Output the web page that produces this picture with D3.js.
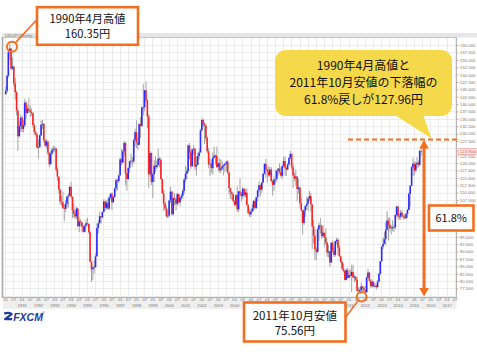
<!DOCTYPE html>
<html><head><meta charset="utf-8">
<script src="https://cdn.jsdelivr.net/npm/d3@7"></script>
<style>html,body{margin:0;padding:0;background:#fff;overflow:hidden}</style>
</head><body>
<svg id="c" width="477" height="352"></svg>
<script>
// Monthly USD/JPY candles, Jan 1990 – Jun 2015
const startYear = 1990;
const open = [
143.4,144.5,149.6,157.6,158.8,152.0,152.7,147.0,144.0,137.8,129.1,132.5,
135.4,131.6,132.8,140.5,137.0,138.4,137.9,137.3,136.9,132.9,130.5,129.7,
125.2,125.4,129.4,133.0,133.3,127.7,125.9,127.3,123.5,119.6,123.2,124.5,
124.8,124.9,117.8,115.4,111.1,107.0,106.7,104.8,104.5,106.2,108.6,109.0,
111.9,108.6,104.0,102.8,101.9,104.6,98.6,100.2,99.8,98.5,96.7,98.8,
99.6,99.4,96.6,86.6,84.0,84.5,84.7,88.4,98.0,99.6,102.0,101.6,
103.4,107.0,104.8,106.5,104.6,108.3,109.6,106.7,108.5,111.4,114.2,113.9,
115.8,121.3,120.2,124.0,126.8,116.5,114.6,118.4,120.6,120.8,120.6,127.8,
130.5,127.0,126.2,133.2,132.6,138.8,138.9,144.7,141.4,135.8,116.2,123.4,
113.6,116.2,119.1,118.6,119.3,121.5,121.0,114.6,109.8,106.3,104.6,102.0,
102.2,107.3,110.3,102.7,108.1,107.7,106.2,109.5,106.7,108.2,109.0,110.6,
114.4,116.4,117.3,126.0,123.6,118.9,124.6,124.9,118.8,119.4,122.4,123.6,
131.1,134.6,133.4,132.7,128.5,124.0,119.6,119.8,118.3,121.8,122.5,122.5,
118.7,119.9,117.6,118.1,118.9,119.3,119.8,120.4,116.8,111.5,110.1,109.5,
107.2,105.9,109.1,104.3,110.4,109.5,108.8,111.3,109.2,110.0,105.8,103.1,
102.6,103.6,104.6,107.1,104.8,108.4,110.8,112.5,111.0,113.4,116.4,119.7,
117.9,117.2,115.9,117.8,113.9,112.6,114.4,114.6,117.4,118.1,116.9,115.7,
119.0,120.7,118.5,117.8,119.5,121.7,123.1,118.6,115.8,114.8,115.4,111.2,
111.7,106.4,103.9,99.7,104.0,105.5,106.2,107.9,108.8,106.0,98.5,95.4,
90.7,89.9,97.6,98.9,98.6,95.3,96.4,94.7,93.0,89.7,90.1,86.3,
93.0,90.3,88.9,93.5,94.0,91.3,88.4,86.5,84.2,83.5,80.4,83.7,
81.1,82.1,81.8,83.1,81.2,81.5,80.5,76.7,76.6,77.0,78.2,77.6,
76.9,76.2,81.2,82.9,80.1,78.3,79.8,78.1,78.4,77.9,79.8,82.5,
86.7,91.7,92.6,94.2,97.4,100.5,99.1,97.9,98.2,98.2,98.3,102.4,
105.3,102.0,101.8,103.2,102.2,101.8,101.3,102.8,104.1,109.6,112.3,118.6,
119.8,117.5,119.6,120.1,119.4,124.1];
const high = [
145.8,150.0,158.0,160.35,159.0,155.8,153.0,149.0,144.5,138.2,134.0,136.4,
136.0,134.5,141.8,141.0,139.6,142.0,139.5,138.6,137.2,133.5,131.0,130.2,
128.0,129.8,134.5,134.6,133.5,128.0,128.2,127.6,123.8,124.0,125.4,125.9,
125.7,125.0,118.6,115.4,111.4,108.8,110.2,106.0,107.5,108.9,109.8,112.4,
113.6,108.7,106.2,104.2,105.3,104.8,101.2,101.1,100.2,98.8,99.0,100.9,
101.5,99.5,97.0,86.8,85.5,87.1,89.4,99.5,100.6,103.6,102.0,103.6,
107.8,107.2,107.5,108.1,108.9,109.9,110.1,108.8,111.8,114.8,114.6,116.1,
121.9,124.8,124.5,127.5,127.2,116.8,118.5,120.8,123.3,122.0,128.2,131.7,
134.5,128.6,133.6,135.6,139.2,146.8,144.8,147.66,141.6,136.6,124.1,123.6,
116.8,121.0,122.3,120.8,124.8,122.0,121.7,114.8,111.0,106.9,105.5,104.4,
107.6,112.0,110.6,108.4,109.8,108.3,110.0,109.6,108.7,109.6,111.4,114.9,
119.0,118.4,126.2,126.8,124.6,124.9,126.0,125.0,122.2,123.6,124.6,131.6,
135.2,135.0,133.8,133.3,128.9,125.2,121.5,121.2,123.6,125.5,122.9,125.6,
120.3,121.6,121.2,120.6,119.6,120.0,120.8,121.0,117.0,111.7,110.4,109.6,
107.3,109.5,112.1,110.6,114.9,110.2,112.0,111.5,111.1,111.5,106.1,104.3,
104.3,106.0,107.5,107.7,108.5,111.0,113.7,112.8,113.6,116.5,120.0,121.4,
117.9,118.9,118.7,118.6,114.3,115.5,117.8,117.5,118.3,119.9,118.6,119.1,
122.2,122.2,118.5,120.0,122.0,124.1,123.2,119.8,116.8,117.9,115.6,114.7,
112.0,108.5,104.1,104.6,105.6,108.6,108.5,110.6,109.8,106.0,100.7,97.5,
91.4,98.1,99.7,101.4,99.1,98.9,96.4,97.8,93.3,92.3,90.2,93.1,
93.8,91.3,93.7,94.7,94.5,92.2,88.6,86.8,85.9,83.8,84.3,84.5,
83.6,84.0,85.5,85.5,82.2,81.5,81.3,77.9,77.8,79.5,78.3,78.3,
78.3,81.7,84.2,83.0,80.6,80.6,79.9,79.3,78.9,80.4,82.8,86.8,
91.8,94.8,96.7,99.9,103.7,101.5,101.5,99.0,100.6,99.0,102.6,105.4,
105.4,102.8,104.1,104.1,102.4,102.8,103.1,104.5,110.1,112.5,119.0,121.8,
120.6,120.5,122.0,120.8,124.5,125.86];
const low = [
143.0,143.8,149.0,155.0,151.5,151.6,146.0,141.5,136.2,124.1,128.8,130.6,
130.5,130.4,132.2,135.0,136.6,137.0,135.5,136.0,132.0,129.5,129.0,125.0,
121.6,125.3,129.2,131.6,126.8,125.5,124.8,122.6,118.6,119.4,122.8,123.6,
123.8,117.1,114.0,109.8,105.8,105.5,104.5,100.4,103.4,104.8,105.0,108.8,
108.0,101.3,101.6,101.0,101.1,98.4,96.6,98.5,96.6,96.4,96.5,98.3,
98.8,96.0,86.4,79.75,80.3,82.5,84.5,88.2,96.1,99.5,99.6,101.3,
103.3,103.9,104.3,104.1,104.1,107.7,104.1,106.6,108.2,110.4,110.7,113.2,
115.8,119.3,120.0,122.5,112.5,110.6,114.3,116.8,119.6,118.8,119.8,125.6,
125.1,124.5,126.0,128.4,132.2,136.2,137.6,140.5,131.8,111.6,115.4,112.6,
108.2,113.6,117.0,118.0,119.2,118.5,114.3,109.5,103.7,103.9,101.5,101.3,
101.8,106.5,102.2,102.2,105.6,104.0,105.5,106.2,105.3,107.4,107.9,109.6,
113.5,114.6,116.6,121.3,118.1,118.8,123.0,117.6,115.8,119.3,121.3,123.6,
130.7,132.3,126.5,127.3,123.3,118.4,115.6,116.7,116.0,121.4,119.5,118.3,
117.2,116.8,116.6,117.7,115.8,116.9,117.3,116.3,109.2,107.8,107.6,106.7,
105.3,105.4,103.4,103.4,108.7,106.9,107.7,108.3,108.4,105.6,102.7,101.8,
101.7,103.5,103.6,104.2,104.4,106.9,110.0,108.7,109.9,113.3,116.0,115.0,
113.4,115.4,115.4,113.6,108.9,110.5,113.1,113.5,115.5,116.3,115.1,114.5,
118.4,115.7,115.6,117.6,119.2,121.3,117.8,111.6,113.9,112.3,107.2,109.6,
104.9,103.8,95.8,99.0,101.8,104.1,103.8,107.1,103.5,90.9,92.8,87.1,
87.1,89.3,93.5,96.1,94.3,94.6,91.7,92.3,88.2,88.0,84.8,86.3,
89.4,88.2,88.3,92.5,88.8,88.2,86.1,83.6,82.9,80.2,80.2,80.9,
81.1,81.5,76.3,81.0,79.6,80.0,76.5,75.95,75.9,75.56,76.6,76.6,
76.0,76.1,80.9,79.7,77.7,77.7,77.9,77.9,77.1,77.9,79.6,82.0,
86.6,90.9,92.6,92.0,97.4,93.8,96.9,95.8,96.9,96.6,97.6,101.6,
100.8,100.8,100.8,101.4,100.8,101.1,101.1,101.5,104.1,105.2,112.2,115.6,
115.9,116.9,118.3,118.5,118.9,122.5];
const close = [
144.5,149.6,157.6,158.8,152.0,152.7,147.0,144.0,137.8,129.1,132.5,135.4,
131.6,132.8,140.5,137.0,138.4,137.9,137.3,136.9,132.9,130.5,129.7,125.2,
125.4,129.4,133.0,133.3,127.7,125.9,127.3,123.5,119.6,123.2,124.5,124.8,
124.9,117.8,115.4,111.1,107.0,106.7,104.8,104.5,106.2,108.6,109.0,111.9,
108.6,104.0,102.8,101.9,104.6,98.6,100.2,99.8,98.5,96.7,98.8,99.6,
99.4,96.6,86.6,84.0,84.5,84.7,88.4,98.0,99.6,102.0,101.6,103.4,
107.0,104.8,106.5,104.6,108.3,109.6,106.7,108.5,111.4,114.2,113.9,115.8,
121.3,120.2,124.0,126.8,116.5,114.6,118.4,120.6,120.8,120.6,127.8,130.5,
127.0,126.2,133.2,132.6,138.8,138.9,144.7,141.4,135.8,116.2,123.4,113.6,
116.2,119.1,118.6,119.3,121.5,121.0,114.6,109.8,106.3,104.6,102.0,102.2,
107.3,110.3,102.7,108.1,107.7,106.2,109.5,106.7,108.2,109.0,110.6,114.4,
116.4,117.3,126.0,123.6,118.9,124.6,124.9,118.8,119.4,122.4,123.6,131.1,
134.6,133.4,132.7,128.5,124.0,119.6,119.8,118.3,121.8,122.5,122.5,118.7,
119.9,117.6,118.1,118.9,119.3,119.8,120.4,116.8,111.5,110.1,109.5,107.2,
105.9,109.1,104.3,110.4,109.5,108.8,111.3,109.2,110.0,105.8,103.1,102.6,
103.6,104.6,107.1,104.8,108.4,110.8,112.5,111.0,113.4,116.4,119.7,117.9,
117.2,115.9,117.8,113.9,112.6,114.4,114.6,117.4,118.1,116.9,115.7,119.0,
120.7,118.5,117.8,119.5,121.7,123.1,118.6,115.8,114.8,115.4,111.2,111.7,
106.4,103.9,99.7,104.0,105.5,106.2,107.9,108.8,106.0,98.5,95.4,90.7,
89.9,97.6,98.9,98.6,95.3,96.4,94.7,93.0,89.7,90.1,86.3,93.0,
90.3,88.9,93.5,94.0,91.3,88.4,86.5,84.2,83.5,80.4,83.7,81.1,
82.1,81.8,83.1,81.2,81.5,80.5,76.7,76.6,77.0,78.2,77.6,76.9,
76.2,81.2,82.9,80.1,78.3,79.8,78.1,78.4,77.9,79.8,82.5,86.7,
91.7,92.6,94.2,97.4,100.5,99.1,97.9,98.2,98.2,98.3,102.4,105.3,
102.0,101.8,103.2,102.2,101.8,101.3,102.8,104.1,109.6,112.3,118.6,119.8,
117.5,119.6,120.1,119.4,124.1,123.9];

const priceTicks = [77.5,80,82.5,85,87.5,90,92.5,95,97.5,100,102.5,105,107.5,110,112.5,115,117.5,120,
  122.5,125,127.5,130,132.5,135,137.5,140,142.5,145,147.5,150,152.5,155,157.5,160];
const gridPrices = [75].concat(priceTicks);
const axisYears = [1990,1991,1992,1993,1994,1995,1996,1997,1998,1999,2000,2001,2002,2003,2004,2005,
  2006,2007,2008,2009,2010,2011,2012,2013,2014,2015,2016,2017];
const tickMonths = [0, 6]; // "01", "07"

// annotation values
const highValue = 160.35, highMonth = [1990, 3];
const lowValue = 75.56, lowMonth = [2011, 9];
const retraceValue = 127.96;
const retracePct = "61.8%";
const arrowMonth = [2015, 7];

const ORANGE = "#f26f21", UP = "#2a2aff", DOWN = "#ff2424", WICK = "#a3a3a3";
const JP = "'Noto Sans CJK JP','Noto Sans',sans-serif";
const SMALL = "'Liberation Sans',Arial,sans-serif";

const svg = d3.select('#c');
const X0 = 3, X1 = 456.5, Y0 = 38, Y1 = 297;
const x = d3.scaleTime().domain([new Date(1990,0,1), new Date(2017,0,1)]).range([5.35, 446.7]);
const y = d3.scaleLinear().domain([74.6, 162.4]).range([297, 38]);

// boxes that cover parts of the right axis (as in the reference)
const pctBox = {x:429, y:205.5, w:44.5, h:25};
const data = close.map((c,i)=>({date:new Date(startYear,i,1), o:open[i], h:high[i], l:low[i], c}));
const last = data[data.length-1];
const tagY = y(last.c);

// frame
svg.append('rect').attr('x',2).attr('y',33).attr('width',475).attr('height',4.5).attr('fill','#e6e6e6');
svg.append('text').attr('x',5).attr('y',36.6).attr('font-size',3.6).attr('fill','#777')
  .attr('font-family',SMALL).text('USDJPY,Monthly');
svg.append('rect').attr('x',X0).attr('y',Y0).attr('width',X1-X0).attr('height',Y1-Y0).attr('fill','#fff');
svg.append('rect').attr('x',X0).attr('y',Y1).attr('width',X1-X0).attr('height',12).attr('fill','#efefef');

// grid
const gridDates = [];
axisYears.forEach(yr => tickMonths.forEach(m => { const d = new Date(yr,m,1); if (x(d) < X1) gridDates.push(d); }));
const grid = svg.append('g');
grid.selectAll('line.v').data(gridDates).join('line').attr('class','v')
  .attr('x1',d=>Math.round(x(d))+0.5).attr('x2',d=>Math.round(x(d))+0.5).attr('y1',Y0).attr('y2',Y1)
  .attr('stroke','#ececec').attr('stroke-width',1);
grid.selectAll('line.h').data(gridPrices).join('line').attr('class','h')
  .attr('x1',X0).attr('x2',X1).attr('y1',d=>Math.round(y(d))+0.5).attr('y2',d=>Math.round(y(d))+0.5)
  .attr('stroke','#ececec').attr('stroke-width',1);

// borders
svg.append('line').attr('x1',X0-0.5).attr('x2',X0-0.5).attr('y1',37).attr('y2',Y1+0.5).attr('stroke','#a8a8a8').attr('stroke-width',1.6);
svg.append('line').attr('x1',X1).attr('x2',X1).attr('y1',37).attr('y2',Y1+0.5).attr('stroke','#b5b5b5').attr('stroke-width',1);
svg.append('line').attr('x1',X0).attr('x2',X1).attr('y1',37.6).attr('y2',37.6).attr('stroke','#c4c4c4').attr('stroke-width',1);
svg.append('line').attr('x1',X0-1).attr('x2',X1).attr('y1',Y1+0.5).attr('y2',Y1+0.5).attr('stroke','#b0b0b0').attr('stroke-width',1);

// candles
const cg = svg.append('g');
cg.selectAll('line.w').data(data).join('line').attr('class','w')
  .attr('x1',d=>x(d.date)+0.4).attr('x2',d=>x(d.date)+0.4)
  .attr('y1',d=>y(d.h)).attr('y2',d=>y(d.l)).attr('stroke',WICK).attr('stroke-width',1);
cg.selectAll('rect.b').data(data).join('rect').attr('class','b')
  .attr('x',d=>x(d.date)-0.45).attr('width',1.6)
  .attr('y',d=>y(Math.max(d.o,d.c))).attr('height',d=>Math.max(0.8, Math.abs(y(d.o)-y(d.c))))
  .attr('fill',d=>d.c>=d.o?UP:DOWN);

// right axis (labels hidden where the reference covers them with the 61.8% box / price tag)
const visibleTicks = priceTicks.filter(p => {
  const py = y(p);
  if (py > pctBox.y - 2.5 && py < pctBox.y + pctBox.h + 2.5) return false;
  if (Math.abs(py - tagY) < 4) return false;
  return true;
});
const ra = svg.append('g').attr('transform',`translate(${X1},0)`)
  .call(d3.axisRight(y).tickValues(visibleTicks).tickSize(2).tickPadding(1.2).tickFormat(d3.format('.3f')));
ra.select('.domain').remove();
ra.selectAll('line').attr('stroke','#e39a9a');
ra.selectAll('text').attr('font-size',4.4).attr('fill','#777').attr('font-family',SMALL);
svg.append('rect').attr('x',X1+1.5).attr('y',tagY-2.8).attr('width',18).attr('height',5.6)
  .attr('fill','#fff2f2').attr('stroke','#e57a7a').attr('stroke-width',0.6);
svg.append('text').attr('x',X1+3.3).attr('y',tagY+1.5).attr('font-size',4.4).attr('fill','#d44')
  .attr('font-family',SMALL).text(d3.format('.3f')(last.c));

// bottom axis: months and years
const ba = svg.append('g').attr('transform',`translate(0,${Y1})`)
  .call(d3.axisBottom(x).tickValues(gridDates).tickSize(0).tickPadding(1.5).tickFormat(d3.timeFormat('%m')));
ba.select('.domain').remove();
ba.selectAll('text').attr('font-size',4.2).attr('fill','#777').attr('font-family',SMALL);
const yearDates = axisYears.filter(yr=>yr>1990).map(yr=>new Date(yr,0,1));
const ya = svg.append('g').attr('transform',`translate(0,${Y1+5.5})`)
  .call(d3.axisBottom(x).tickValues(yearDates).tickSize(0).tickPadding(1.5).tickFormat(d3.timeFormat('%Y')));
ya.select('.domain').remove();
ya.selectAll('text').attr('font-size',4.2).attr('fill','#777').attr('font-family',SMALL);

// ---------- annotations ----------
const ann = svg.append('g');
// high marker
const hx = x(new Date(highMonth[0],highMonth[1],1))+2.6, hy = y(highValue)+2.6;
ann.append('circle').attr('cx',hx).attr('cy',hy).attr('r',5).attr('fill','none').attr('stroke',ORANGE).attr('stroke-width',2);
ann.append('line').attr('x1',37).attr('y1',19.5).attr('x2',hx+3.3).attr('y2',hy-3.8).attr('stroke',ORANGE).attr('stroke-width',1.6);
ann.append('rect').attr('x',37).attr('y',7.2).attr('width',101).attr('height',37.6).attr('fill','#fff')
  .attr('stroke',ORANGE).attr('stroke-width',2.6);
ann.append('text').attr('x',87.5).attr('y',23.3).attr('text-anchor','middle').attr('font-family',JP).attr('font-size',11.2)
  .attr('fill','#111').text('1990年4月高値');
ann.append('text').attr('x',87.5).attr('y',38.2).attr('text-anchor','middle').attr('font-family',JP).attr('font-size',11.2)
  .attr('fill','#111').text(`${highValue}円`);

// low marker
const lx = x(new Date(lowMonth[0],lowMonth[1],1))+0.8, ly = y(lowValue)+2.6;
ann.append('line').attr('x1',345).attr('y1',318).attr('x2',lx-3.2).attr('y2',ly+3.6).attr('stroke',ORANGE).attr('stroke-width',1.6);
ann.append('circle').attr('cx',lx).attr('cy',ly).attr('r',4.8).attr('fill','none').attr('stroke',ORANGE).attr('stroke-width',2);
ann.append('rect').attr('x',244).attr('y',302.5).attr('width',101.5).attr('height',39).attr('fill','#fff')
  .attr('stroke',ORANGE).attr('stroke-width',2.6);
ann.append('text').attr('x',294.8).attr('y',320).attr('text-anchor','middle').attr('font-family',JP).attr('font-size',11.5)
  .attr('fill','#111').text('2011年10月安値');
ann.append('text').attr('x',294.8).attr('y',334.5).attr('text-anchor','middle').attr('font-family',JP).attr('font-size',11.5)
  .attr('fill','#111').text(`${lowValue}円`);

// retracement level
const ry = y(retraceValue);
ann.append('line').attr('x1',348).attr('x2',X1+1).attr('y1',ry).attr('y2',ry)
  .attr('stroke',ORANGE).attr('stroke-width',2).attr('stroke-dasharray','5,3');

// yellow callout
const bx0=275, by0=50, bx1=452, by1=116, r=11;
const tipX = 431.5, tipY = ry - 1;
ann.append('path').attr('fill','#f6d84b').attr('d',
  `M${bx0+r},${by0} H${bx1-r} A${r},${r} 0 0 1 ${bx1},${by0+r} V${by1-r} A${r},${r} 0 0 1 ${bx1-r},${by1}` +
  ` H423.5 L${tipX},${tipY} L396.5,${by1} H${bx0+r} A${r},${r} 0 0 1 ${bx0},${by1-r} V${by0+r} A${r},${r} 0 0 1 ${bx0+r},${by0} Z`);
const calloutLines = ['1990年4月高値と','2011年10月安値の下落幅の',`${retracePct}戻しが${retraceValue}円`];
ann.selectAll('text.cl').data(calloutLines).join('text').attr('class','cl')
  .attr('x',363.5).attr('y',(d,i)=>69.5+i*17.3).attr('text-anchor','middle')
  .attr('font-family',JP).attr('font-size',12).attr('fill','#111').text(d=>d);

// vertical double arrow
const ax = x(new Date(arrowMonth[0],arrowMonth[1],1)) + 0.6;
const aTop = ry + 0.5, aBot = Y1 - 0.5;
ann.append('line').attr('x1',ax).attr('x2',ax).attr('y1',aTop+6).attr('y2',aBot-6).attr('stroke',ORANGE).attr('stroke-width',3);
ann.append('path').attr('fill',ORANGE).attr('d',`M${ax},${aTop} L${ax+4.8},${aTop+8.5} L${ax-4.8},${aTop+8.5} Z`);
ann.append('path').attr('fill',ORANGE).attr('d',`M${ax},${aBot} L${ax+4.8},${aBot-8.5} L${ax-4.8},${aBot-8.5} Z`);

// 61.8% box
ann.append('rect').attr('x',pctBox.x).attr('y',pctBox.y).attr('width',pctBox.w).attr('height',pctBox.h).attr('fill','#fff')
  .attr('stroke',ORANGE).attr('stroke-width',2.6);
ann.append('text').attr('x',pctBox.x+pctBox.w/2).attr('y',222).attr('text-anchor','middle').attr('font-family',JP).attr('font-size',11)
  .attr('fill','#111').text(retracePct);

// FXCM logo
const logo = svg.append('g');
logo.append('path').attr('d','M4.2,313.6 C7,312.4 11,312.6 11.6,314.2 L5.2,319.2 H12').attr('fill','none')
  .attr('stroke','#1d3d9e').attr('stroke-width',2.3).attr('stroke-linejoin','round');
logo.append('text').attr('x',13.2).attr('y',320.8).attr('font-family',SMALL).attr('font-weight','bold')
  .attr('font-style','italic').attr('font-size',10.5).attr('fill','#1d3d9e').text('FXCM');
logo.append('text').attr('x',42.3).attr('y',314.2).attr('font-family',SMALL).attr('font-size',3.4).attr('fill','#1d3d9e').text('®');
</script>
</body></html>
